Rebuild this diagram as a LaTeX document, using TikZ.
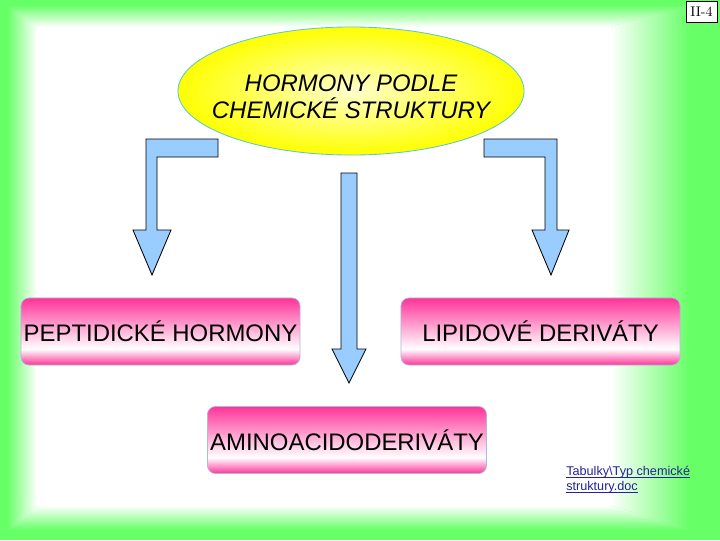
\documentclass[tikz,border=0pt]{standalone}
\usepackage{fontspec}
\setsansfont{Liberation Sans}
\usepackage{xcolor}
\definecolor{framegreen}{RGB}{102, 255, 102}
\definecolor{ovalyellow}{RGB}{255, 255, 0}
\definecolor{ovalpale}{RGB}{255, 255, 205}
\definecolor{ovaledge}{RGB}{90, 200, 210}
\definecolor{arrowblue}{RGB}{153, 204, 255}
\definecolor{boxpink}{RGB}{255, 51, 153}
\definecolor{boxedge}{RGB}{170, 185, 220}
\definecolor{linkblue}{RGB}{35, 35, 150}
\usepackage{tikz}
\usetikzlibrary{shapes.geometric}

\newcommand{\linkline}[1]{\underline{\smash{#1}}}

\pgfdeclareverticalshading{pinkband}{100bp}{color(0bp)=(boxpink); color(25bp)=(boxpink);
  color(37bp)=(white); color(75bp)=(boxpink); color(100bp)=(boxpink)}

\tikzset{
  groupbox/.style={rounded corners=0.2cm, shading=pinkband, draw=boxedge, line width=0.5pt,
    minimum width=6.975cm, minimum height=1.675cm, inner sep=0pt,
    font=\sffamily\fontsize{17}{20}\selectfont},
  blockarrow/.style={fill=arrowblue, draw=black, line width=0.6pt},
  titleoval/.style={ellipse, inner color=ovalpale, outer color=ovalyellow, draw=ovaledge,
    line width=0.6pt, minimum width=8.65cm, minimum height=3.2cm, inner sep=0pt},
}

\begin{document}
\begin{tikzpicture}[x=0.025cm, y=-0.025cm]
  \useasboundingbox (0,0) rectangle (720,540);

  % Frame
  \fill[framegreen] (0,0) rectangle (720,540);
  \fill[white] (37,27) rectangle (610,505);
  \shade[left color=framegreen, right color=white] (7,5) -- (37,27) -- (37,505) -- (7,530) -- cycle;
  \shade[top color=framegreen, bottom color=white] (7,5) -- (690,5) -- (610,27) -- (37,27) -- cycle;
  \shade[left color=white, right color=framegreen] (690,5) -- (690,530) -- (610,505) -- (610,27) -- cycle;
  \shade[top color=white, bottom color=framegreen] (37,505) -- (610,505) -- (690,530) -- (7,530) -- cycle;

  % Slide number
  \node[draw=black, fill=white, line width=0.5pt, minimum width=0.775cm, minimum height=0.525cm,
    inner sep=0pt, font=\fontsize{10}{12}\selectfont] (pagenum) at (701.5,11.5) {II-4};

  % Title
  \node[titleoval] (title) at (351,91) {};
  \node[align=center, font=\sffamily\itshape\fontsize{17}{19.5}\selectfont] (titletext)
    at (351,97) {HORMONY PODLE\\CHEMICKÉ STRUKTURY};

  % Arrows
  \draw[blockarrow] (218,139) -- (146,139) -- (146,230) -- (133,230) -- (152,275)
    -- (171,230) -- (157,230) -- (157,157) -- (218,157) -- cycle;
  \draw[blockarrow] (484,139) -- (557,139) -- (557,230) -- (569,230) -- (551,275)
    -- (532,230) -- (545,230) -- (545,157) -- (484,157) -- cycle;
  \draw[blockarrow] (341,173) -- (357,173) -- (357,349) -- (366,349) -- (349,383)
    -- (332,349) -- (341,349) -- cycle;

  % Groups
  \node[groupbox] (peptid) at (160.5,331.5) {PEPTIDICKÉ HORMONY};
  \node[groupbox] (lipid) at (540.5,331.5) {LIPIDOVÉ DERIVÁTY};
  \node[groupbox] (amino) at (347,440) {AMINOACIDODERIVÁTY};

  % Link
  \node[anchor=north west, align=left, inner sep=0pt, text=linkblue,
    font=\sffamily\fontsize{9}{10.8}\selectfont] (link) at (566,475)
    {\linkline{Tabulky\textbackslash Typ chemické}\\\linkline{struktury.doc}};

\end{tikzpicture}
\end{document}
